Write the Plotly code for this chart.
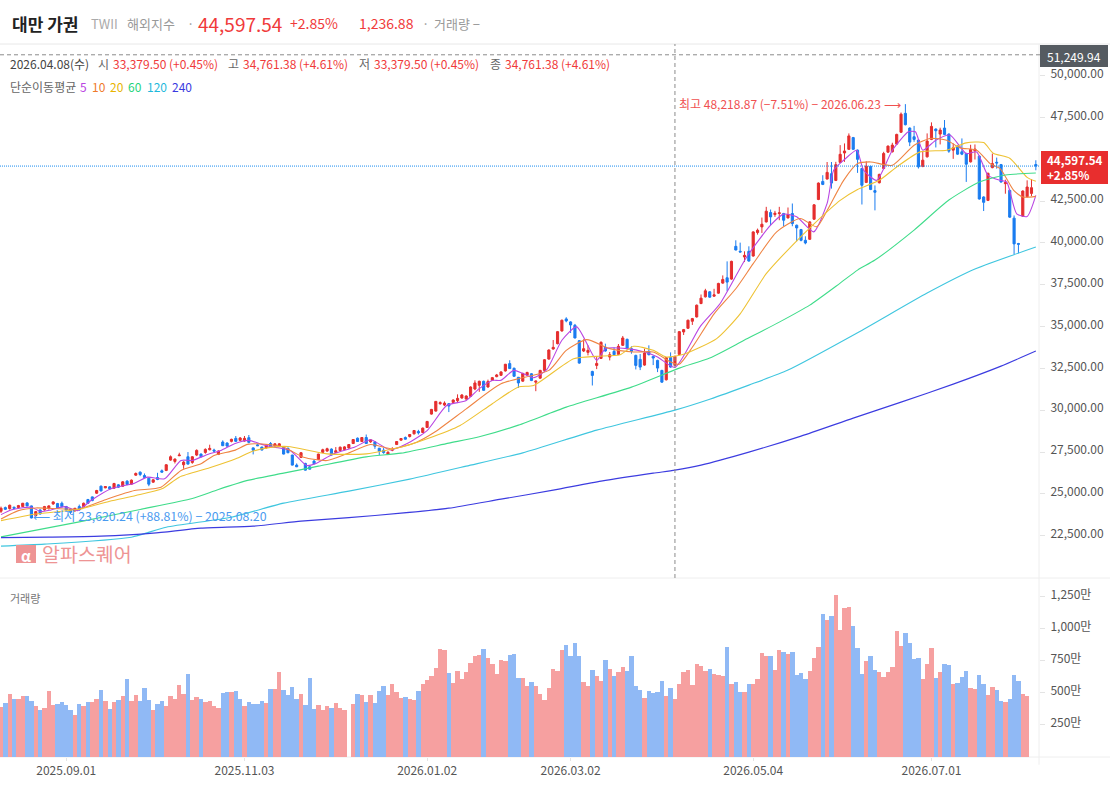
import plotly.graph_objects as go

FONT = "Noto Sans CJK KR"
W, H = 1110, 786
UP, DOWN = "#e52e2e", "#1a7cf0"
UP_V, DOWN_V = "#f6a0a0", "#90b9f5"

# (prices as read; the reading carries a constant bias of PRICE_BIAS)
PRICE_BIAS = 100

OPEN = [23860,24080,24020,24100,24080,24140,24360,24180,23600,23940,
        23940,24020,24300,24320,24340,24140,23980,23900,24140,24140,
        24560,24720,24940,25360,25260,25320,25240,25440,25360,25660,
        25480,26020,26200,26000,25840,25600,25880,26280,26300,26920,
        26840,27180,26640,27120,26780,27220,27280,27380,27540,27520,
        27260,28000,27940,28040,28220,28100,28060,28260,27650,27830,
        27700,27650,27910,27760,27760,27680,27620,27220,26620,27080,
        26720,26520,26860,26960,27380,27460,27580,27380,27490,27550,
        27650,27910,28230,28030,28270,28010,28010,27630,27510,27270,
        27510,27850,28110,28270,28330,28490,28630,28570,28870,29670,
        29850,30290,30210,30290,30370,30470,30630,30570,30730,31170,
        31390,31630,31290,31690,31910,31990,32250,32690,32410,31870,
        31640,32000,32080,31580,31820,32280,32960,33560,33880,34640,
        35360,35180,34980,34060,33440,33360,32220,32580,33000,33660,
        33080,33420,33240,33780,34140,33580,33180,32940,32600,33420,
        33120,32880,32280,31720,33060,32580,33240,34580,34800,35220,
        35480,36280,36680,36980,36720,36900,37500,37820,37740,39700,
        39400,39060,39400,39120,40520,40860,41160,41720,41600,41660,
        41660,41400,41660,40960,40700,40060,40120,41320,42500,43580,
        43720,44040,43640,44720,45280,45500,46200,45450,44350,43520,
        44480,43030,43500,44350,45330,45350,45810,46520,47650,46770,
        46250,46050,44470,45050,46090,46710,46410,46770,46410,45450,
        45690,45350,45250,44750,45410,45090,42650,42445,44405,44725,
        44585,43445,43045,41385,39865,41505,42665,42865,44590]
HIGH = [24140,24140,24260,24140,24240,24360,24400,24200,23880,23980,
        24180,24220,24460,24360,24440,24180,24060,24060,24260,24380,
        24600,24740,25140,25400,25360,25360,25560,25480,25660,25720,
        25760,26180,26240,26120,25880,25780,26160,26360,26680,27200,
        27020,27360,26860,27400,27160,27560,27320,27620,27840,27600,
        27500,28100,27980,28200,28360,28300,28360,28420,27680,27900,
        27720,27860,28000,27930,27930,27720,27680,27240,26720,27400,
        26760,26560,26940,27300,27600,27660,27620,27700,27730,27750,
        27880,28180,28270,28300,28450,28170,28050,27650,27650,27450,
        27690,28050,28230,28330,28470,28710,28730,28870,29260,29980,
        30450,30430,30430,30330,30550,30850,30870,30790,31330,31690,
        31670,31670,31730,31890,32070,32230,32670,32890,32450,31890,
        32140,32200,32120,31680,32320,32960,33540,34100,34640,35320,
        35460,35220,35060,34100,34140,33780,32260,33080,34020,33880,
        33380,33660,33860,34340,34180,33720,33220,33260,33580,33780,
        33160,32920,32320,33080,33360,33160,34640,34760,35320,35420,
        36220,36820,37160,37020,37160,37520,37960,38800,38840,40060,
        39920,39400,39700,40600,40760,41420,42060,41900,41820,42060,
        41700,42020,42260,41000,40740,40300,41200,42220,43520,43950,
        44740,44740,44750,45750,45850,46450,46240,45490,44390,44780,
        44520,43340,44040,45350,45730,45890,46430,47700,48200,46810,
        46900,46090,45350,46450,47110,46750,46790,47250,46450,45850,
        45730,46150,45290,45770,45790,45130,42690,44105,45245,45005,
        44625,43685,43085,41545,39905,43045,43645,43725,44845]
LOW = [23760,23940,23960,24000,24020,24120,24160,23440,23560,23660,
       23900,23960,24240,24020,24080,23900,23700,23820,23900,24100,
       24300,24460,24900,25040,25240,25160,25200,25260,25320,25420,
       25440,25980,25960,25860,25360,25560,25720,26180,26260,26880,
       26720,27160,26400,26660,26700,27160,27080,27300,27500,27400,
       27220,27760,27700,27980,28000,28060,28020,27920,27260,27760,
       27500,27600,27690,27700,27720,27260,27330,26600,26500,27040,
       26300,26360,26680,26940,27340,27420,27200,27340,27450,27500,
       27600,27880,28000,28000,27880,27950,27590,27220,27300,27220,
       27450,27820,28090,28150,28270,28450,28450,28540,28850,29640,
       29820,30230,30150,29790,30330,30330,30590,30530,30700,31100,
       31000,31060,31250,31650,31870,31950,32210,32370,31910,31230,
       31600,31960,31640,31040,31780,32240,32920,33520,33840,34600,
       35160,34520,34200,32680,33380,33180,31380,32360,32960,33400,
       32880,33180,33200,33740,33540,33280,32340,32300,32560,33180,
       32600,32180,31540,31680,32440,32540,33200,34400,34760,35000,
       35440,36240,36640,36620,36680,36860,37460,37020,37700,39460,
       39340,38760,38780,39080,40400,40500,41120,40960,41460,41260,
       40900,41360,40900,40000,40000,39820,40080,41280,42460,43360,
       43700,43150,43600,44680,44750,45460,45460,44090,42200,43480,
       43060,41850,43460,44310,45290,45310,45770,46480,46930,45690,
       45950,44350,44430,45010,46050,45610,45790,46350,45290,44930,
       45170,45150,43550,44710,44890,42490,41810,42405,44365,44345,
       43505,42845,41405,39205,39285,41465,42625,42705,44245]
CLOSE = [24040,23980,24220,24040,24200,24340,24180,23460,23840,23700,
         24140,24180,24420,24060,24140,23940,23800,24040,23940,24340,
         24340,24500,25100,25080,25340,25200,25520,25300,25620,25460,
         25720,26120,26060,25880,25480,25740,25760,26200,26640,27120,
         26980,27220,26800,26680,27120,27500,27120,27560,27620,27460,
         27460,27780,27760,28160,28040,28240,28220,27980,27510,27780,
         27520,27810,27710,27890,27890,27280,27360,26620,26520,27360,
         26320,26380,26700,27280,27540,27600,27220,27480,27690,27710,
         27850,28150,28030,28270,27910,28130,27750,27450,27370,27390,
         27550,28030,28210,28170,28450,28690,28550,28830,29230,29950,
         30430,30350,30330,30150,30510,30610,30810,30750,31290,31530,
         31630,31090,31610,31850,32010,32190,32650,32390,31930,31530,
         32100,32160,31680,31640,32280,32920,33500,33660,34600,35280,
         35240,35000,34220,32720,33580,33480,31980,32700,33960,33440,
         33220,33220,33720,34220,33580,33420,32580,32480,33320,33220,
         33020,32420,31580,33040,32480,33120,34600,34720,35280,35380,
         36180,36600,37040,36660,36800,37480,37720,37560,38800,39480,
         39360,39160,38820,40560,40660,41020,41800,41460,41680,41700,
         41260,41600,41060,40800,40060,39900,41160,42180,43480,43400,
         44120,43480,44580,45200,45400,46300,45500,44900,43350,44500,
         43100,42930,44000,45250,45690,45750,46390,47600,46970,45930,
         46090,44450,44850,45990,46870,46610,46650,46390,45390,45590,
         45210,45210,44610,45490,45510,42530,42330,44065,44645,44685,
         43545,43505,41445,39845,39825,43005,43245,43205,44498]

MA5_X = [0,2.3,4.6,7,9.2,11.5,14.6,17.6,20.7,25.3,30.7,33.7,37.6,41.4,44,47.5,50.6,53.7,57,60,
         62.7,66.5,70.3,72.3,76.5,81.4,85,89.5,93.3,98,102.5,107,110,113,115,118,122.5,125.5,129,132.4,
         137,139,144,148,151,155,160.8,165.4,171.5,177,180,183,186.9,190,191.5,193.8,196.8,198.4,201.4,205,
         208.7,210.3,212,215,218.3,222,224.4,227,229.8,231.3,233.6,236,238]
MA5 = [23660,23940,24060,24100,23840,23940,24140,23900,24500,25200,25540,25900,25800,26900,26900,27260,27500,27900,28100,27860,
       27697,27497,26597,26697,27297,27700,28133,27533,27897,28683,30183,30483,31193,31683,31693,32283,31843,32323,34083,34883,
       32883,33583,33583,33383,33083,32463,34900,36283,39063,40963,41623,41463,40563,42263,44245,44845,45445,44245,43645,45445,
       46545,46545,45445,46045,46345,45245,45345,43945,43645,43545,41645,41485,42745]
MA10_X = [0,4,8,18,24.5,30.7,36.8,41.4,46,49,53.7,56.7,60,65,69.6,75,79.5,85,90,95.6,99.5,107,115,126,130,134.7,140,145.5,150,154,156,
          159,164,169,173,178.4,183.8,187.6,190,193.8,197,200,205,210,213.7,217.5,220.6,224.4,227.5,229.8,232.9,235,238]
MA10 = [23400,23900,24060,24000,24600,25100,25300,26300,26700,27200,27500,27860,27880,27693,27093,26893,27293,27853,27593,27993,28550,29983,31483,32283,33483,34123,33583,33383,33383,32783,32650,
        33663,35663,37163,38663,40563,41363,40863,41845,43645,44645,44745,44545,45745,46145,46045,45585,45445,44645,44345,43045,42645,42685]
MA20_X = [0,8,18,25,31,37,41,48,54,58,62,66,75,84,92.6,98,105.6,113,119,122.5,131.7,137,142.4,145.5,150,153,157,164.6,170,176,
          182,187,193,197,202,206,211.4,217.5,222,226,228.2,232,236,238]
MA20 = [23300,23700,23980,24460,24800,25200,25900,26460,27000,27460,27680,27733,27293,27293,27733,28193,28993,30293,31293,31383,32983,33123,33223,33723,33483,33083,33250,34183,35663,38063,
        39763,41045,42445,43100,43645,44445,45345,45445,45885,45905,45265,44965,43825,43585]
MA60_X = [0,18,32,44,50,57,65,73,84,92,103,110,119,130,145,156,163,171,179,186,193,197,201,210,218,225,231,238]
MA60 = [22330,23227,23969,24627,25165,25721,26139,26558,27114,27336,27934,28310,29010,30086,31282,32419,33017,34093,35169,36186,37502,38279,38877,40671,42465,43541,43960,44080]
MA120_X = [0,10,30,38,53,65,80,94,107,120,137,155,163,172,181,197,213,224,238]
MA120 = [21774,21894,22312,22910,23508,24346,25063,25781,26558,27353,28711,29907,30560,31402,32299,34530,36904,38339,39654]
MA240_X = [0,11,23,35,46,58,69,80,92,103,115,127,138,150,155,161,172,184,196,207,219,230,238]
MA240 = [22283,22313,22372,22552,22851,22970,23269,23479,23747,24047,24585,25123,25661,26140,26319,26618,27395,28352,29428,30385,31462,32538,33435]

MA_SERIES = [("MA5", MA5_X, MA5, "#b945e2", 1.1), ("MA10", MA10_X, MA10, "#ef8443", 1.1),
             ("MA20", MA20_X, MA20, "#eec233", 1.1), ("MA60", MA60_X, MA60, "#3fdc8a", 1.1),
             ("MA120", MA120_X, MA120, "#3fc6df", 1.1), ("MA240", MA240_X, MA240, "#3c3ce0", 1.1)]

VOLUME = [388,419,489,450,450,474,474,435,396,365,
          380,513,404,411,427,404,365,325,411,396,
          427,427,450,521,435,372,427,443,474,607,
          435,482,435,536,443,365,411,435,396,474,
          450,560,490,646,443,466,450,427,435,396,
          380,497,505,505,513,450,396,427,411,411,
          435,419,529,529,661,521,482,544,450,490,
          404,615,372,404,365,396,380,419,380,365,
          None,
          411,490,482,427,482,419,513,552,482,568,
          505,458,466,450,443,513,568,599,630,693,
          841,833,654,576,669,607,661,732,786,794,
          841,771,724,646,755,747,794,802,615,615,
          552,583,552,490,443,536,685,669,833,872,
          786,888,786,583,552,677,630,591,755,685,
          630,661,700,669,786,552,521,458,513,497,
          505,591,474,536,450,568,661,677,560,724,
          708,669,685,646,638,630,857,568,583,505,
          505,568,568,607,810,786,786,677,833,818,
          802,818,638,654,607,669,771,857,1114,1068,
          1099,1263,989,1161,1169,1021,849,646,747,786,
          677,661,622,661,700,982,864,966,888,763,
          771,607,724,849,615,661,724,716,568,576,
          622,669,536,529,638,568,482,544,521,435,
          427,450,638,591,490,474]
VOLUME_DIR = ("RBRBRRBBRB" "RRRBBBBRBR" "BRRBRBRBRB" "RRBBBRBBRR" "RRRBRRBRRR"
              "RBBRBBRBBB" "BRBRRBBBBR" "BBBRRRBRRR" "R"
              "RBRBRBBBRR" "RRBRRBRRRR" "RRBRRRRRRR" "BRRRRRBBBR" "RBRRRRRRRB"
              "BBBRRBRRBR" "BRRBBBBRBB" "BBRBRRRRRR" "RRBRRRBRBB" "RBRRRRBRRB"
              "RBBBBRRRBR" "BRRRRBBBRB" "BRRRRRRBBB" "BRRRBRBBRB" "BBRRBBRRBB" "RBBBRR")

X_TICK_POS = [15, 56, 98, 131, 173, 214]
X_TICK_TEXT = ["2025.09.01", "2025.11.03", "2026.01.02", "2026.03.02", "2026.05.04", "2026.07.01"]
PRICE_TICKS = [50000, 47500, 42500, 40000, 37500, 35000, 32500, 30000, 27500, 25000, 22500]
PRICE_TICK_TEXT = ["50,000.00", "47,500.00", "42,500.00", "40,000.00", "37,500.00",
                   "35,000.00", "32,500.00", "30,000.00", "27,500.00", "25,000.00", "22,500.00"]
VOL_TICKS = [250, 500, 750, 1000, 1250]
VOL_TICK_TEXT = ["250만", "500만", "750만", "1,000만", "1,250만"]
CROSS_INDEX = 155
CROSS_PRICE = 51249.94
LAST_PRICE = 44597.54

idx = list(range(len(OPEN)))
shift = lambda a: [v + PRICE_BIAS for v in a]

fig = go.Figure()
fig.add_trace(go.Bar(x=list(range(len(VOLUME))), y=VOLUME, yaxis="y2",
                     marker=dict(color=[UP_V if d == "R" else DOWN_V for d in VOLUME_DIR], line=dict(width=0)),
                     hoverinfo="skip"))
fig.add_trace(go.Candlestick(x=idx, open=shift(OPEN), high=shift(HIGH), low=shift(LOW), close=shift(CLOSE),
                             increasing=dict(line=dict(color=UP, width=1), fillcolor=UP),
                             decreasing=dict(line=dict(color=DOWN, width=1), fillcolor=DOWN),
                             whiskerwidth=0, hoverinfo="skip"))
for name, xs, ys, col, lw in MA_SERIES:
    fig.add_trace(go.Scatter(x=xs, y=shift(ys), mode="lines", name=name,
                             line=dict(color=col, width=lw, shape="spline", smoothing=0.6), hoverinfo="skip"))

def px(x): return x / W
def py(y): return 1 - y / H

ann = []
def text(x, y, s, color="#666", size=12, anchor="left", weight=None):
    t = f"<b>{s}</b>" if weight else s
    ann.append(dict(xref="paper", yref="paper", x=px(x), y=py(y), text=t, showarrow=False, xanchor=anchor,
                    yanchor="middle", font=dict(family=FONT, size=size, color=color), align="left",
                    xshift=0, yshift=0, borderpad=0, borderwidth=0))

RED = "#f03a3a"
# header
text(12, 23.5, "대만 가권", "#222", 17, weight=True)
text(91, 23.5, "TWII", "#aaa", 13)
text(127, 23.5, "해외지수", "#999", 13)
text(187, 23.5, "·", "#999", 13)
text(198, 23.5, "44,597.54", RED, 19)
text(290, 23.5, "+2.85%", RED, 14)
text(359, 23.5, "1,236.88", RED, 14)
text(422, 23.5, "·", "#999", 13)
text(434, 23.5, "거래량 −", "#999", 13)
# info row
text(10, 63.5, "2026.04.08(수)", "#444", 12)
text(98, 63.5, "시", "#666", 12)
text(113, 63.5, "33,379.50 (+0.45%)", RED, 12)
text(228, 63.5, "고", "#666", 12)
text(243, 63.5, "34,761.38 (+4.61%)", RED, 12)
text(359, 63.5, "저", "#666", 12)
text(374, 63.5, "33,379.50 (+0.45%)", RED, 12)
text(490, 63.5, "종", "#666", 12)
text(505, 63.5, "34,761.38 (+4.61%)", RED, 12)
text(10, 86, "단순이동평균", "#666", 12)
for x, s, c in [(80, "5", "#b945e2"), (92, "10", "#ef7a2b"), (110, "20", "#e8b400"), (128, "60", "#1fd47a"),
                (147, "120", "#1fb9dc"), (172, "240", "#3a3ae0")]:
    text(x, 86, s, c, 12)
# annotations
text(679, 104, "최고 48,218.87 (−7.51%) − 2026.06.23 ⟶", "#f05050", 12)
text(33, 516, "⟵ 최저 23,620.24 (+88.81%) − 2025.08.20", "#4a9af0", 12.3)
# watermark and panel title
text(42, 553, "알파스퀘어", "#ee9494", 19.5)
text(25.5, 555, "α", "white", 15, anchor="center", weight=True)
text(10, 598, "거래량", "#777", 11)
# price tags
text(1074, 56.5, "51,249.94", "white", 12, anchor="center")
text(1047, 160, "44,597.54", "white", 11.6, weight=True)
text(1047, 175, "+2.85%", "white", 11.6, weight=True)

shapes = [
    dict(type="line", xref="paper", yref="paper", x0=0, x1=1, y0=py(44), y1=py(44), line=dict(color="#e8e8e8", width=1), layer="below"),
    dict(type="line", xref="paper", yref="paper", x0=0, x1=1, y0=py(578), y1=py(578), line=dict(color="#eeeeee", width=1), layer="below"),
    dict(type="line", xref="paper", yref="paper", x0=0, x1=1, y0=py(757), y1=py(757), line=dict(color="#eeeeee", width=1), layer="below"),
    dict(type="line", xref="paper", yref="paper", x0=px(1039), x1=px(1039), y0=0.027, y1=py(44), line=dict(color="#eeeeee", width=1), layer="below"),
    dict(type="line", xref="x", yref="paper", x0=CROSS_INDEX, x1=CROSS_INDEX, y0=py(578), y1=py(44), line=dict(color="#8c8c8c", width=1, dash="4px,3px")),
    dict(type="line", xref="paper", yref="y", x0=0, x1=px(1040), y0=CROSS_PRICE, y1=CROSS_PRICE, line=dict(color="#8c8c8c", width=1, dash="4px,3px")),
    dict(type="line", xref="paper", yref="y", x0=0, x1=px(1040), y0=LAST_PRICE, y1=LAST_PRICE, line=dict(color="#1a8cf0", width=1, dash="1px,1px")),
    dict(type="rect", xref="paper", yref="paper", x0=px(1040), x1=px(1108), y0=py(67), y1=py(45), fillcolor="#555b61", line=dict(width=0)),
    dict(type="rect", xref="paper", yref="paper", x0=px(1041), x1=px(1108), y0=py(184), y1=py(151), fillcolor="#e82e2e", line=dict(width=0)),
    dict(type="rect", xref="paper", yref="paper", x0=px(16), x1=px(36), y0=py(563), y1=py(545), fillcolor="#ee9494", line=dict(width=0)),
]

TICKFONT = dict(family=FONT, size=12, color="#555")
Y_TOP, Y_MID, Y_BOT = 44, 578, 757
PX_PER_1000 = 16.727
top_val = 50000 + (75.7 - Y_TOP) / PX_PER_1000 * 1000
bot_val = 22500 - (Y_MID - 535.7) / PX_PER_1000 * 1000
fig.update_layout(
    width=W, height=H, margin=dict(l=0, r=0, t=0, b=0), paper_bgcolor="white", plot_bgcolor="white",
    showlegend=False, bargap=0, annotations=ann, shapes=shapes, hovermode=False,
    font=dict(family=FONT),
    xaxis=dict(domain=[0, 1039 / W], range=[-0.23, 238.73], anchor="y2", rangeslider=dict(visible=False),
               tickmode="array", tickvals=X_TICK_POS, ticktext=X_TICK_TEXT, tickfont=TICKFONT,
               ticks="outside", ticklen=3, tickcolor="#e4e4e4", showgrid=False, zeroline=False, showline=False),
    yaxis=dict(domain=[py(Y_MID), py(Y_TOP)], range=[bot_val, top_val], side="right", anchor="x",
               tickmode="array", tickvals=PRICE_TICKS, ticktext=PRICE_TICK_TEXT, tickfont=TICKFONT,
               ticks="outside", ticklen=5, tickcolor="#e4e4e4", showgrid=False, zeroline=False, showline=False,
               ticklabelshift=-2, ticklabelstandoff=3),
    yaxis2=dict(domain=[py(Y_BOT), py(Y_MID)], range=[0, 1398], side="right", anchor="x",
                tickmode="array", tickvals=VOL_TICKS, ticktext=VOL_TICK_TEXT, tickfont=TICKFONT,
                ticks="outside", ticklen=5, tickcolor="#e4e4e4", showgrid=False, zeroline=False, showline=False,
                ticklabelshift=-2, ticklabelstandoff=3),
)

fig.write_html("out.html", config={"displayModeBar": False},
               post_script="document.body.style.margin='0';document.body.style.overflow='hidden';")
